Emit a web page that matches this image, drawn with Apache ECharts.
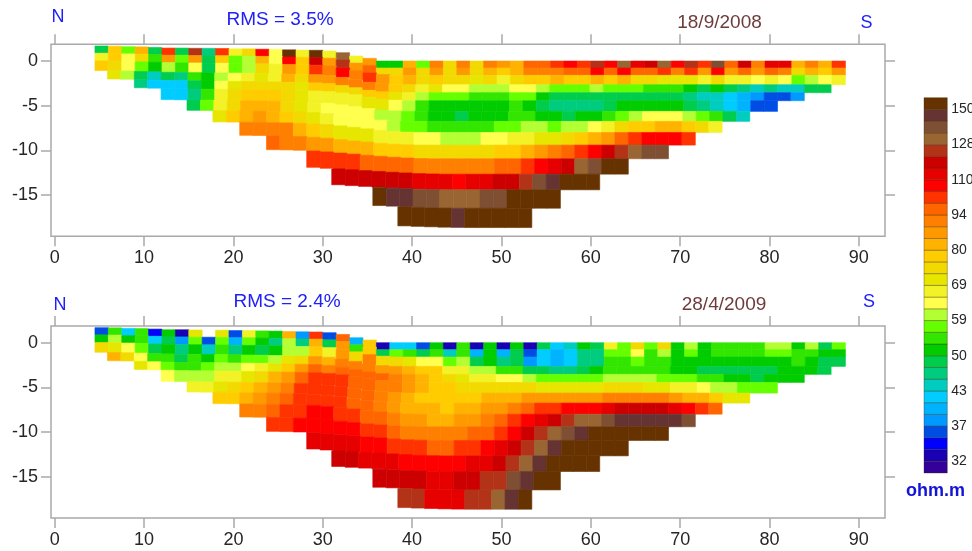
<!DOCTYPE html>
<html>
<head>
<meta charset="utf-8">
<style>html,body{margin:0;padding:0;background:#fff}#c{width:972px;height:551px}</style>
<script src="https://cdn.jsdelivr.net/npm/echarts@6/dist/echarts.min.js"></script>
</head>
<body>
<div id="c"></div>
<script>
// Colour classes, lowest (1) to highest (32) resistivity
var classColors = ['#330099','#1a00b3','#0000ff','#004de6','#0099ff','#00b3ff','#00ccff','#00ccbf',
 '#00cc80','#00cc4d','#00cc00','#33e600','#66ff00','#b3ff33','#ffff4d','#f2f226',
 '#e6e600','#f2d900','#ffcc00','#ffb300','#ff9900','#ff8000','#ff6600','#ff3300',
 '#ff0000','#e60000','#cc0000','#b33319','#996633','#7f4f33','#663333','#663300'];
var legendTickLabels = [32,37,43,50,59,69,80,94,110,128,150];
var legendTickLevels = [1,4,7,10,13,16,19,22,25,28,31];
var xTicks = [0,10,20,30,40,50,60,70,80,90];
var yTicks = [0,-5,-10,-15];

// Layer geometry of the model section (m)
var layerDepths = [0,0.78,1.6,2.65,3.54,4.44,5.63,6.75,7.99,9.4,10.93,12.65,14.4,16.46,18.62];
var layerStarts = [4.5,4.5,4.5,5.9,8.9,11.9,14.8,17.7,20.7,23.7,28.2,31.0,35.6,38.4];
var cellWidth = 1.5;
var surface = [1.68,1.66,1.6,1.58,1.52,1.45,1.45,1.42,1.42,1.4,1.36,1.36,1.32,1.3,1.25,1.22,1.2,1.12,0.93,0.56,0.3,
 0,0,0,0,0,0,0,0,0,0,0,0,0,0,0,0,0,0,0,0,0,0,0,0,0,0,0,0,0,0,0,0,0,0,0];

// 18/9/2008 : class of each cell, layer by layer
var top1 = [10,19,13,20,10,24,10,28,9,24,16,18,25,15,32,16,32,16,29,16,21,11,11,20,13,22,18,22,18,22,21,20,23,23,24,25,24,28,25,29,26,27,29,25,28,24,30,23,27,22,26,26,20,22,20,24];
var top2 = [16,19,15,18,12,21,13,21,10,19,13,14,20,15,25,19,27,21,28,21,23,18,18,21,18,21,18,21,18,20,19,20,22,22,22,23,23,25,23,25,23,23,24,22,24,21,25,21,23,21,23,22,18,20,19,21];
var top3 = [19,18,15,13,11,14,12,15,10,15,13,14,18,16,21,19,24,22,25,22,24,21,19,20,18,19,18,18,17,18,16,18,19,19,20,19,19,20,19,20,18,18,17,17,17,16,18,16,16,15,16,15,13,14,15,16];
var top4 = [17,14,10,8,10,9,12,11,14,15,16,17,16,20,18,21,21,22,22,22,21,19,18,16,17,15,15,14,14,14,15,15,14,13,13,13,14,13,13,13,12,12,12,11,10,11,10,9,8,9,8,8,10,10];
var top5 = [9,7,7,7,10,11,15,17,18,18,18,18,17,19,19,18,18,19,19,17,16,14,13,13,13,12,12,12,13,13,11,10,10,10,10,10,10,10,10,10,10,9,8,8,7,6,5,4,4,5];
var top6 = [7,7,9,12,16,18,19,19,19,18,17,16,16,16,16,17,17,15,14,12,11,11,11,11,11,11,12,11,10,9,9,9,9,10,11,11,11,11,11,10,9,8,7,6,4,4];
var top7 = [10,13,16,18,20,20,20,18,17,16,15,15,15,15,14,14,13,12,11,11,10,11,11,11,12,12,11,11,10,11,11,12,13,14,15,15,15,14,13,12,10,8];
var top8 = [17,19,20,21,20,19,18,17,16,15,15,15,15,14,13,13,12,12,12,12,12,13,13,14,14,13,14,14,15,16,18,19,19,20,20,19,18,16];
var top9 = [22,22,22,22,20,19,18,17,17,17,16,16,16,15,15,14,14,14,15,15,16,16,17,17,18,19,20,21,23,24,25,25,25,24];
var top10 = [23,22,22,21,21,20,20,20,19,19,19,18,18,18,18,18,18,19,19,20,21,22,23,24,25,27,28,29,30,30];
var top11 = [24,24,24,24,23,23,23,23,22,22,22,22,22,22,23,23,24,25,26,27,29,30,32,32];
var top12 = [27,27,27,27,27,27,26,26,26,25,26,26,27,27,28,30,31,32,32,32];
var top13 = [32,31,31,30,30,29,29,29,30,30,32,32,32,32];
var top14 = [32,32,32,32,31,32,32,32,32,32];

// 28/4/2009 (0 = blank cell)
var bot1 = [4,12,7,12,3,11,2,17,0,17,4,16,12,11,20,5,24,4,23,6,19,2,7,7,4,11,2,12,2,11,2,11,2,10,7,8,11,10,16,13,18,13,18,11,14,11,12,12,12,12,14,14,11,14,10,13];
var bot2 = [11,14,11,12,7,10,5,13,4,13,6,13,11,9,14,9,20,10,21,12,19,10,13,12,10,12,8,12,6,11,6,10,4,7,6,7,9,9,13,13,15,12,14,11,13,11,12,12,12,12,13,13,12,12,11,11];
var bot3 = [18,17,15,13,10,11,9,11,8,12,9,11,10,11,14,14,19,16,21,18,22,18,18,17,15,15,13,14,10,11,9,10,5,7,6,7,9,9,12,12,13,12,12,11,11,11,11,11,11,11,11,11,12,11,10,10];
var bot4 = [20,18,15,12,12,10,12,11,13,12,13,13,14,17,18,21,20,22,22,22,21,21,20,19,19,16,16,14,14,12,12,10,10,9,9,10,11,12,12,12,12,12,11,11,10,10,10,10,10,10,11,11,11,10];
var bot5 = [17,15,13,12,12,13,14,14,15,16,17,19,21,23,22,23,23,23,23,22,21,20,19,18,17,16,16,15,15,14,13,13,13,13,13,14,14,14,14,13,13,13,12,12,11,11,10,11,11,11];
var bot6 = [15,14,14,14,16,16,17,18,20,21,23,24,24,24,23,23,22,22,21,20,19,19,18,18,18,18,18,18,17,17,17,17,17,18,18,18,17,17,16,16,15,14,14,13,13,13];
var bot7 = [16,16,17,18,19,20,21,22,24,24,24,24,23,23,22,21,20,19,19,19,19,19,20,20,20,21,21,21,21,21,21,22,22,22,22,22,21,20,20,19,17,17];
var bot8 = [19,19,20,21,22,23,24,24,24,24,23,23,22,21,20,20,20,19,20,20,21,21,22,23,24,24,25,25,25,26,27,27,27,27,26,25,24,23];
var bot9 = [22,22,23,24,24,25,25,24,24,23,23,22,21,21,20,20,21,21,22,23,24,25,26,27,28,29,29,30,31,31,31,31,31,30];
var bot10 = [24,24,25,25,25,25,25,24,24,23,22,22,22,22,22,23,23,24,25,27,28,29,30,31,32,32,32,32,32,32];
var bot11 = [26,26,26,26,25,25,24,24,24,23,23,24,24,25,26,27,28,29,31,32,32,32,32,32];
var bot12 = [27,27,26,26,26,25,25,25,25,25,26,26,27,28,29,31,32,32,32,32];
var bot13 = [27,27,27,27,26,26,27,27,28,28,30,31,32,32];
var bot14 = [28,28,26,26,26,28,28,29,31,32];

var topLayers = [top1,top2,top3,top4,top5,top6,top7,top8,top9,top10,top11,top12,top13,top14];
var botLayers = [bot1,bot2,bot3,bot4,bot5,bot6,bot7,bot8,bot9,bot10,bot11,bot12,bot13,bot14];

// Layer boundaries follow the surface, more smoothly and more weakly with depth
function boundary(xc, d){
  var col = (xc - 5.25)/cellWidth, half = 0.5*d/cellWidth;
  var a = Math.max(0, Math.round(col - half)), b = Math.min(55, Math.round(col + half));
  var s = 0, n = 0;
  for(var k = a; k <= b; k++){ s += surface[k]; n++; }
  return (n ? s/n : 0)*(1 - 0.02*d) - d;
}
function cells(layers){
  var out = [];
  layers.forEach(function(row, r){
    row.forEach(function(cls, i){
      if(!cls) return;
      var x0 = layerStarts[r] + i*cellWidth, x1 = x0 + cellWidth, xc = x0 + cellWidth/2;
      out.push([x0, x1, boundary(xc, layerDepths[r]), boundary(xc, layerDepths[r+1]), cls]);
    });
  });
  return out;
}
function renderCell(params, api){
  var a = api.coord([api.value(0), api.value(2)]);
  var b = api.coord([api.value(1), api.value(3)]);
  var c = classColors[api.value(4)-1];
  return {type:'rect', shape:{x:a[0], y:a[1], width:b[0]-a[0], height:b[1]-a[1]},
    style:{fill:c, stroke:c, lineWidth:0.6}};
}
function renderLegend(params, api){
  var a = api.coord([0, api.value(0)]);
  var b = api.coord([1, api.value(0)-1]);
  var c = classColors[api.value(0)-1];
  return {type:'rect', shape:{x:a[0], y:a[1], width:b[0]-a[0], height:b[1]-a[1]},
    style:{fill:c, stroke:'rgba(60,40,0,0.35)', lineWidth:1}};
}

var frame = '#a9a9a9', labelColor = '#262626', fontFam = '"Liberation Sans",Arial,sans-serif';
var xMin = -0.42, xMax = 92.93, yMin = -19.6, yMax = 1.87;

function xAxis(grid, pos, labelled){
  return {type:'value', gridIndex:grid, position:pos, min:xMin, max:xMax, splitLine:{show:false},
    axisLine:{show:false, onZero:false},
    axisTick:{show:true, length:10, customValues:xTicks, lineStyle:{color:frame, width:1.5}},
    axisLabel:{show:labelled, customValues:xTicks, margin:13, fontSize:18, color:labelColor, fontFamily:fontFam}};
}
function yAxis(grid, pos, labelled){
  return {type:'value', gridIndex:grid, position:pos, min:yMin, max:yMax, splitLine:{show:false},
    axisLine:{show:false, onZero:false},
    axisTick:{show:true, length:10, customValues:yTicks, lineStyle:{color:frame, width:1.5}},
    axisLabel:{show:labelled, customValues:yTicks, margin:13, fontSize:18, color:labelColor, fontFamily:fontFam}};
}
function text(str, x, y, color, size, weight){
  return {type:'text', x:x, y:y, style:{text:str, fill:color, font:(weight||'normal')+' '+size+'px '+fontFam, textAlign:'center', textVerticalAlign:'middle'}};
}
var blue = '#2020f8', maroon = '#6e3b3b';

var chart = echarts.init(document.getElementById('c'), null, {renderer:'canvas'});
chart.setOption({
  animation:false,
  backgroundColor:'#fff',
  grid:[
    {left:51, top:44.3, width:834, height:192, outerBoundsMode:'none', show:true, borderColor:frame, borderWidth:1.5, backgroundColor:'#fff'},
    {left:51, top:326, width:834, height:192, outerBoundsMode:'none', show:true, borderColor:frame, borderWidth:1.5, backgroundColor:'#fff'},
    {left:924, top:97.7, width:23.3, height:375.3, outerBoundsMode:'none', show:false}
  ],
  xAxis:[xAxis(0,'bottom',true), xAxis(0,'top',false), xAxis(1,'bottom',true), xAxis(1,'top',false),
    {type:'value', gridIndex:2, min:0, max:1, show:false}],
  yAxis:[yAxis(0,'left',true), yAxis(0,'right',false), yAxis(1,'left',true), yAxis(1,'right',false),
    {type:'value', gridIndex:2, position:'right', min:0, max:32, splitLine:{show:false},
     axisLine:{show:false, onZero:false}, axisTick:{show:false},
     axisLabel:{customValues:legendTickLevels, margin:4, fontSize:14, color:labelColor, fontFamily:fontFam,
       formatter:function(v){ return String(legendTickLabels[legendTickLevels.indexOf(Math.round(v))]); }}}],
  series:[
    {type:'custom', xAxisIndex:0, yAxisIndex:0, clip:false, renderItem:renderCell, data:cells(topLayers), silent:true},
    {type:'custom', xAxisIndex:2, yAxisIndex:2, clip:false, renderItem:renderCell, data:cells(botLayers), silent:true},
    {type:'custom', xAxisIndex:4, yAxisIndex:4, clip:false, renderItem:renderLegend,
      data:classColors.map(function(c,i){return [i+1];}), silent:true}
  ],
  graphic:[
    text('N',58,17,blue,18), text('RMS = 3.5%',280,20,blue,19), text('18/9/2008',719.5,23,maroon,19), text('S',866.5,23,blue,18),
    text('N',60,305,blue,18), text('RMS = 2.4%',287,302,blue,19), text('28/4/2009',724,305,maroon,19), text('S',869,302,blue,18),
    text('ohm.m',935.5,491,'#1414d8',18,'bold')
  ]
});
</script>
</body>
</html>
